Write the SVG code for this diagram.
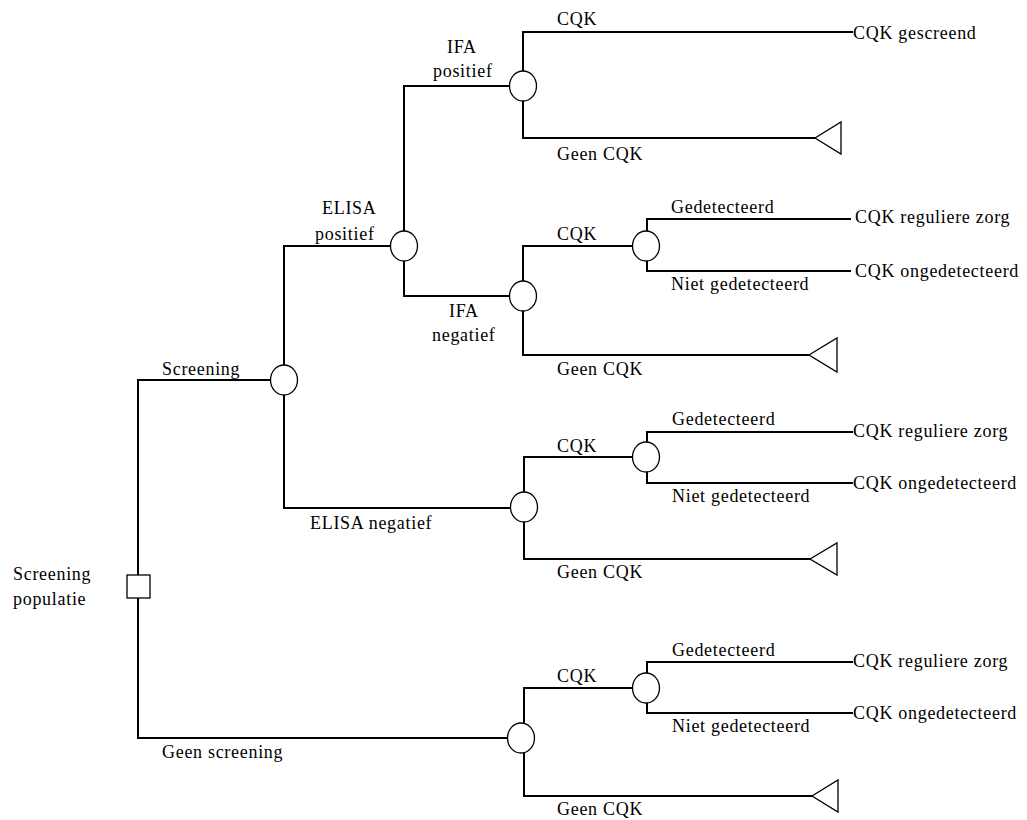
<svg xmlns="http://www.w3.org/2000/svg" width="1027" height="820" viewBox="0 0 1027 820">
<style>
.ln{fill:none;stroke:#000;stroke-width:2;stroke-linecap:square}
.nd{fill:#fff;stroke:#000;stroke-width:1.3}
text{font-family:"Liberation Serif","Times New Roman",serif;font-size:18px;letter-spacing:0.7px;fill:#000}
</style>
<rect width="1027" height="820" fill="#fff"/>
<g id="connectors" class="ln">
<path d="M284,380 H138 V738 H521"/>
<path d="M284,246 V508 H524"/>
<path d="M284,246 H404"/>
<path d="M523,86 H404 V296 H523"/>
<path d="M852,32 H523 V138 H815"/>
<path d="M646,246 H523 V355 H809"/>
<path d="M850,219 H647 V271 H850"/>
<path d="M646,457 H524 V559 H810"/>
<path d="M852,432 H647 V483 H852"/>
<path d="M646,688 H524 V796 H812"/>
<path d="M852,662 H647 V713 H852"/>
</g>
<g id="root"><rect class="nd" x="127" y="575" width="23" height="23"/><text x="13" y="580">Screening</text><text x="13" y="605">populatie</text></g>
<g id="screening"><ellipse class="nd" cx="284" cy="380" rx="13.5" ry="15"/><text x="162" y="375">Screening</text></g>
<g id="elisa-pos"><ellipse class="nd" cx="404" cy="246" rx="13.5" ry="15"/><text x="322" y="214">ELISA</text><text x="315" y="240">positief</text></g>
<g id="ifa-pos"><ellipse class="nd" cx="523" cy="86" rx="13.5" ry="15"/><text x="447" y="53">IFA</text><text x="433" y="77">positief</text><text x="557" y="25">CQK</text><text x="557" y="160">Geen CQK</text></g>
<g id="leaf-gescreend"><text x="853" y="39">CQK gescreend</text></g>
<g id="term1"><polygon class="nd" points="815,138 841,122 841,154"/></g>
<g id="ifa-neg"><ellipse class="nd" cx="523" cy="296" rx="13.5" ry="15"/><text x="449" y="317">IFA</text><text x="432" y="341">negatief</text><text x="557" y="240">CQK</text><text x="557" y="375">Geen CQK</text></g>
<g id="det1"><ellipse class="nd" cx="646" cy="246" rx="13.5" ry="15"/><text x="671" y="213">Gedetecteerd</text><text x="671" y="290">Niet gedetecteerd</text><text x="855" y="223">CQK reguliere zorg</text><text x="855" y="277">CQK ongedetecteerd</text></g>
<g id="term2"><polygon class="nd" points="809,355 837,338 837,372"/></g>
<g id="elisa-neg"><ellipse class="nd" cx="524" cy="507" rx="13.5" ry="15"/><text x="310" y="529">ELISA negatief</text><text x="557" y="452">CQK</text><text x="557" y="578">Geen CQK</text></g>
<g id="det2"><ellipse class="nd" cx="646" cy="457" rx="13.5" ry="15"/><text x="672" y="425">Gedetecteerd</text><text x="672" y="502">Niet gedetecteerd</text><text x="853" y="437">CQK reguliere zorg</text><text x="853" y="489">CQK ongedetecteerd</text></g>
<g id="term3"><polygon class="nd" points="810,559 837,543 837,575"/></g>
<g id="geen-screening"><ellipse class="nd" cx="521" cy="738" rx="13.5" ry="15"/><text x="162" y="758">Geen screening</text><text x="557" y="682">CQK</text><text x="557" y="815">Geen CQK</text></g>
<g id="det3"><ellipse class="nd" cx="646" cy="688" rx="13.5" ry="15"/><text x="672" y="656">Gedetecteerd</text><text x="672" y="732">Niet gedetecteerd</text><text x="853" y="667">CQK reguliere zorg</text><text x="853" y="719">CQK ongedetecteerd</text></g>
<g id="term4"><polygon class="nd" points="812,796 838,780 838,812"/></g>
</svg>
